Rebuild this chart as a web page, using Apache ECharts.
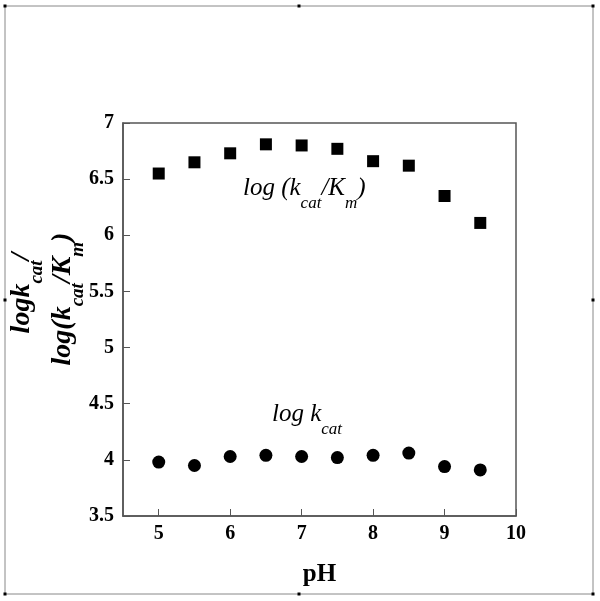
<!DOCTYPE html>
<html>
<head>
<meta charset="utf-8">
<script src="https://cdn.jsdelivr.net/npm/echarts@6/dist/echarts.min.js"></script>
<style>html,body{margin:0;padding:0;background:#fff}#c{width:600px;height:601px}</style>
</head>
<body>
<div id="c"></div>
<script>
var pH = [5, 5.5, 6, 6.5, 7, 7.5, 8, 8.5, 9, 9.5];
var logKcatKm = [6.55, 6.65, 6.73, 6.81, 6.80, 6.77, 6.66, 6.62, 6.35, 6.11];
var logKcat = [3.98, 3.95, 4.03, 4.04, 4.03, 4.02, 4.04, 4.06, 3.94, 3.91];
var xTicks = [5, 6, 7, 8, 9, 10];
var yTicks = [3.5, 4, 4.5, 5, 5.5, 6, 6.5, 7];

var serif = "'Liberation Serif', 'Times New Roman', serif";
var axisColor = '#555';

function pairs(xs, ys) { return xs.map(function (x, i) { return [x, ys[i]]; }); }

var chart = echarts.init(document.getElementById('c'));

var mainH = {fontFamily: serif, fontStyle: 'italic', fontSize: 25, lineHeight: 27, color: '#000'};
var subH = {fontFamily: serif, fontStyle: 'italic', fontSize: 17, lineHeight: 17, padding: [32, 0, 0, 0], color: '#000'};
var mainV = {fontFamily: serif, fontStyle: 'italic', fontWeight: 'bold', fontSize: 28, lineHeight: 30, color: '#000'};
var subV = {fontFamily: serif, fontStyle: 'italic', fontWeight: 'bold', fontSize: 19, lineHeight: 19, padding: [30, 0, 0, 0], color: '#000'};

var handles = [[5,6],[299,6],[593,6],[5,300],[593,300],[5,594],[299,594],[593,594]];

chart.setOption({
  backgroundColor: '#fff',
  animation: false,
  grid: {left: 123, right: 84, top: 123, bottom: 85, show: true, borderColor: axisColor, borderWidth: 1.5, backgroundColor: 'transparent'},
  xAxis: {
    type: 'value', min: 4.5, max: 10, interval: 0.5,
    name: 'pH', nameLocation: 'middle', nameGap: 46,
    nameTextStyle: {fontFamily: serif, fontWeight: 'bold', fontSize: 25, color: '#000'},
    axisLine: {show: true, lineStyle: {color: axisColor, width: 1.5}},
    axisTick: {show: true, inside: true, length: 7, lineStyle: {color: axisColor, width: 1}, customValues: xTicks},
    axisLabel: {fontFamily: serif, fontWeight: 'bold', fontSize: 20, color: '#000', margin: 8, customValues: xTicks},
    splitLine: {show: false}
  },
  yAxis: {
    type: 'value', min: 3.5, max: 7, interval: 0.5,
    axisLine: {show: true, lineStyle: {color: axisColor, width: 1.5}},
    axisTick: {show: true, inside: true, length: 7, lineStyle: {color: axisColor, width: 1}, customValues: yTicks},
    axisLabel: {fontFamily: serif, fontWeight: 'bold', fontSize: 20, color: '#000', margin: 9, customValues: yTicks},
    splitLine: {show: false}
  },
  series: [
    {type: 'scatter', symbol: 'rect', symbolSize: 12, itemStyle: {color: '#000', opacity: 1}, data: pairs(pH, logKcatKm)},
    {type: 'scatter', symbol: 'circle', symbolSize: 13, itemStyle: {color: '#000', opacity: 1}, data: pairs(pH, logKcat)}
  ],
  graphic: [
    {type: 'rect', shape: {x: 5, y: 6, width: 588, height: 588}, style: {fill: 'none', stroke: '#888', lineWidth: 1}, silent: true}
  ].concat(handles.map(function (h) {
    return {type: 'rect', shape: {x: h[0] - 1.5, y: h[1] - 1.5, width: 3, height: 3}, style: {fill: '#000'}, silent: true};
  })).concat([
    {type: 'text', x: 243, y: 188, style: {text: '{m|log (k}{s|cat}{m|/K}{s|m}{m|)}', align: 'left', verticalAlign: 'middle', rich: {m: mainH, s: subH}}},
    {type: 'text', x: 272, y: 414, style: {text: '{m|log k}{s|cat}', align: 'left', verticalAlign: 'middle', rich: {m: mainH, s: subH}}},
    {type: 'text', x: 22, y: 293, rotation: Math.PI / 2, style: {text: '{m|logk}{s|cat}{m|/}', align: 'center', verticalAlign: 'middle', rich: {m: mainV, s: subV}}},
    {type: 'text', x: 63, y: 299, rotation: Math.PI / 2, style: {text: '{m|log(k}{s|cat}{m|/K}{s|m}{m|)}', align: 'center', verticalAlign: 'middle', rich: {m: mainV, s: subV}}}
  ])
});
</script>
</body>
</html>
